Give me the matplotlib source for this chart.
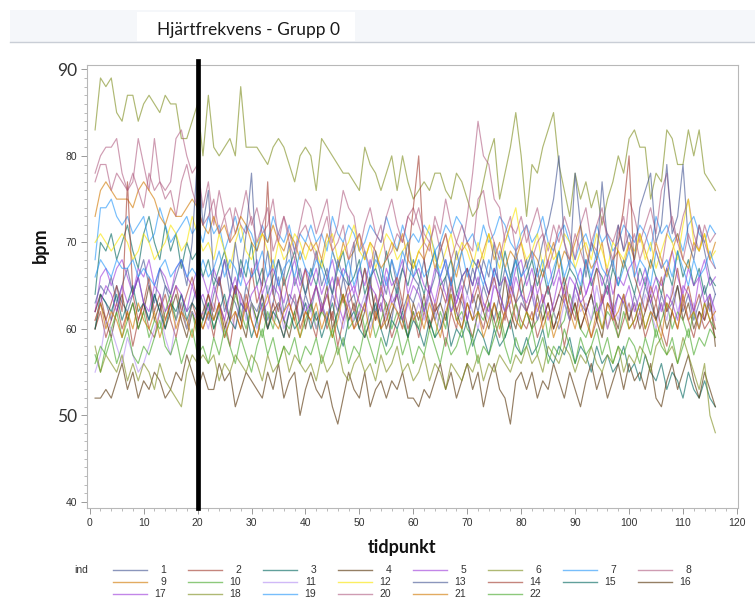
import numpy as np
import matplotlib
matplotlib.use("Agg")
import matplotlib.pyplot as plt
from matplotlib.lines import Line2D
from matplotlib.patches import Rectangle
from matplotlib.ticker import MultipleLocator

# hjärtfrekvens per individ, tidpunkt 1..116
s1 = [62, 64, 63, 61, 65, 63, 62, 64, 66, 63, 61, 64, 62, 65, 63, 61, 64, 62, 63, 65,
      63, 61, 64, 66, 62, 64, 63, 61, 65, 63, 62, 64, 61, 63, 66, 62, 64, 63, 61, 64,
      62, 65, 63, 61, 64, 62, 66, 63, 64, 61, 63, 65, 62, 64, 63, 61, 65, 62, 64, 63,
      65, 62, 64, 61, 63, 66, 62, 64, 63, 61, 64, 62, 65, 63, 61, 64, 62, 66, 63, 64,
      62, 64, 61, 63, 65, 62, 64, 63, 61, 65, 63, 62, 64, 61, 63, 66, 62, 64, 63, 61,
      64, 62, 65, 63, 61, 64, 62, 63, 65, 62, 64, 61, 63, 65, 62, 64]
s2 = [60, 62, 59, 61, 63, 60, 62, 58, 61, 63, 60, 59, 62, 64, 61, 59, 62, 60, 63, 61,
      60, 62, 59, 63, 61, 58, 62, 60, 64, 61, 59, 62, 60, 63, 61, 59, 62, 64, 60, 62,
      61, 59, 63, 60, 62, 58, 61, 63, 60, 62, 59, 61, 64, 60, 62, 59, 61, 63, 60, 62,
      59, 62, 60, 63, 61, 58, 62, 60, 64, 61, 59, 62, 60, 63, 61, 59, 62, 60, 63, 61,
      60, 62, 59, 61, 63, 60, 62, 58, 61, 63, 60, 62, 59, 61, 64, 60, 62, 59, 61, 63,
      60, 62, 59, 61, 63, 60, 58, 62, 60, 63, 61, 59, 62, 60, 61, 59]
s3 = [64, 70, 69, 71, 68, 70, 72, 69, 67, 71, 73, 70, 68, 72, 69, 71, 67, 70, 68, 69,
      66, 68, 65, 67, 69, 66, 64, 68, 66, 70, 65, 67, 64, 66, 68, 65, 67, 69, 66, 64,
      67, 65, 68, 66, 64, 67, 69, 65, 66, 68, 64, 66, 67, 65, 69, 66, 64, 67, 65, 68,
      66, 64, 67, 69, 65, 66, 68, 64, 66, 67, 65, 68, 66, 64, 67, 65, 69, 66, 68, 64,
      66, 68, 65, 67, 64, 66, 69, 65, 67, 66, 64, 68, 65, 67, 66, 64, 67, 65, 68, 66,
      64, 67, 65, 68, 66, 64, 67, 65, 69, 66, 68, 65, 67, 64, 66, 65]
s4 = [60, 63, 61, 59, 62, 64, 61, 63, 60, 62, 65, 61, 63, 60, 62, 64, 61, 59, 62, 60,
      62, 64, 61, 63, 60, 62, 65, 61, 59, 63, 61, 64, 60, 62, 63, 61, 59, 62, 64, 60,
      63, 61, 62, 65, 60, 62, 64, 61, 63, 60, 62, 66, 61, 63, 60, 62, 64, 61, 59, 63,
      61, 64, 60, 62, 63, 61, 65, 62, 60, 63, 61, 64, 62, 60, 63, 61, 66, 62, 60, 63,
      62, 60, 64, 61, 63, 60, 62, 65, 61, 63, 60, 62, 64, 61, 59, 63, 62, 60, 64, 61,
      63, 60, 62, 64, 61, 63, 60, 62, 65, 61, 63, 60, 62, 61, 64, 58]
s5 = [62, 66, 67, 65, 67, 68, 66, 64, 67, 66, 68, 65, 67, 66, 64, 67, 68, 66, 65, 67,
      66, 64, 67, 65, 68, 66, 64, 67, 65, 66, 68, 64, 66, 67, 65, 63, 66, 68, 65, 67,
      65, 67, 64, 66, 68, 65, 67, 66, 64, 67, 65, 68, 66, 64, 67, 65, 66, 68, 64, 66,
      67, 65, 64, 67, 66, 68, 65, 63, 66, 67, 65, 68, 66, 64, 67, 65, 66, 64, 67, 68,
      65, 67, 64, 66, 68, 65, 67, 63, 66, 65, 67, 64, 66, 68, 65, 67, 64, 66, 65, 67,
      68, 65, 67, 64, 66, 65, 67, 69, 66, 64, 67, 65, 66, 68, 65, 66]
s6 = [83, 89, 88, 89, 85, 84, 87, 87, 84, 86, 87, 86, 85, 87, 86, 86, 82, 82, 84, 86,
      80, 87, 81, 80, 81, 82, 80, 88, 81, 81, 81, 80, 79, 81, 82, 81, 79, 77, 80, 81,
      80, 76, 82, 81, 80, 79, 78, 78, 77, 76, 81, 79, 78, 76, 78, 80, 76, 80, 77, 75,
      76, 77, 76, 78, 78, 76, 75, 78, 77, 75, 73, 74, 77, 80, 82, 75, 78, 81, 85, 80,
      73, 79, 78, 81, 83, 85, 79, 76, 73, 78, 75, 77, 74, 76, 72, 75, 77, 80, 78, 82,
      83, 81, 81, 75, 78, 77, 83, 82, 79, 79, 83, 80, 83, 78, 77, 76]
s7 = [68, 74, 74, 75, 73, 72, 73, 71, 72, 73, 70, 71, 74, 72, 70, 71, 72, 73, 71, 72,
      70, 73, 71, 72, 69, 71, 73, 70, 72, 71, 69, 72, 70, 73, 71, 70, 72, 69, 71, 70,
      72, 70, 71, 69, 73, 71, 70, 72, 71, 69, 70, 72, 71, 70, 73, 71, 69, 72, 70, 71,
      70, 72, 71, 69, 70, 72, 71, 73, 72, 70, 71, 69, 72, 70, 71, 73, 72, 70, 69, 71,
      72, 70, 71, 73, 70, 69, 71, 72, 70, 68, 70, 71, 69, 72, 70, 71, 69, 70, 72, 71,
      70, 72, 71, 69, 73, 71, 72, 70, 71, 69, 72, 73, 71, 70, 72, 71]
s8 = [78, 80, 81, 81, 82, 78, 76, 77, 82, 79, 76, 82, 77, 76, 77, 82, 83, 80, 78, 79,
      74, 77, 72, 76, 73, 74, 71, 73, 76, 72, 74, 71, 72, 75, 70, 73, 71, 69, 72, 75,
      74, 71, 73, 75, 70, 72, 76, 74, 73, 69, 72, 74, 71, 70, 73, 75, 72, 70, 73, 74,
      72, 70, 69, 73, 71, 75, 72, 70, 69, 73, 78, 84, 80, 79, 75, 74, 70, 72, 71, 73,
      70, 72, 74, 71, 69, 72, 70, 73, 71, 68, 72, 74, 70, 69, 73, 71, 70, 72, 69, 75,
      73, 70, 72, 74, 71, 76, 78, 72, 70, 73, 75, 71, 69, 72, 70, 71]
s9 = [73, 76, 77, 76, 75, 75, 75, 74, 76, 77, 76, 75, 73, 72, 74, 73, 73, 74, 75, 74,
      72, 71, 73, 71, 72, 70, 71, 73, 72, 70, 69, 71, 70, 72, 70, 69, 71, 70, 68, 70,
      69, 70, 68, 71, 69, 67, 70, 68, 69, 71, 68, 70, 69, 67, 68, 70, 69, 71, 68, 67,
      69, 68, 70, 67, 69, 71, 68, 66, 69, 70, 68, 67, 69, 71, 68, 70, 67, 69, 68, 70,
      67, 69, 68, 66, 68, 70, 67, 69, 68, 70, 72, 69, 67, 68, 70, 66, 68, 69, 67, 70,
      68, 71, 69, 67, 70, 68, 66, 69, 71, 68, 67, 70, 69, 71, 68, 70]
s10 = [57, 55, 58, 60, 62, 59, 61, 63, 60, 62, 59, 61, 60, 62, 64, 61, 63, 60, 62, 59,
       61, 63, 60, 62, 59, 61, 64, 62, 60, 63, 61, 59, 62, 60, 63, 61, 60, 62, 59, 61,
       63, 60, 62, 61, 59, 62, 64, 60, 61, 63, 60, 62, 59, 61, 63, 60, 62, 61, 59, 62,
       60, 63, 61, 59, 62, 60, 64, 61, 62, 60, 59, 62, 61, 63, 60, 62, 59, 61, 63, 60,
       62, 60, 61, 63, 59, 62, 60, 61, 64, 62, 60, 59, 61, 63, 60, 62, 61, 59, 62, 60,
       61, 63, 60, 62, 59, 61, 63, 60, 62, 61, 59, 62, 60, 63, 61, 60]
s11 = [55, 57, 61, 60, 58, 56, 59, 57, 55, 56, 58, 60, 62, 59, 57, 61, 63, 60, 62, 61,
       62, 60, 63, 61, 59, 62, 60, 64, 61, 63, 60, 62, 65, 61, 63, 60, 62, 64, 61, 63,
       62, 60, 63, 61, 64, 62, 60, 63, 61, 62, 64, 60, 62, 63, 61, 64, 62, 60, 63, 61,
       63, 61, 64, 62, 60, 63, 65, 62, 61, 64, 62, 60, 63, 61, 66, 63, 62, 64, 61, 63,
       62, 64, 61, 63, 65, 62, 60, 63, 61, 64, 62, 63, 61, 65, 62, 60, 63, 61, 64, 62,
       63, 61, 64, 62, 60, 63, 61, 65, 62, 64, 61, 63, 60, 62, 64, 61]
s12 = [70, 71, 70, 69, 70, 71, 70, 68, 69, 71, 70, 68, 69, 70, 72, 71, 69, 70, 73, 71,
       69, 70, 68, 71, 69, 67, 70, 72, 69, 68, 70, 71, 69, 67, 70, 68, 69, 71, 70, 68,
       70, 69, 67, 70, 71, 68, 69, 70, 72, 69, 68, 70, 67, 69, 71, 70, 68, 69, 70, 67,
       69, 70, 72, 68, 67, 69, 71, 68, 70, 69, 67, 70, 68, 71, 69, 67, 70, 72, 74, 70,
       68, 69, 71, 67, 70, 68, 69, 71, 70, 67, 69, 70, 68, 71, 69, 67, 70, 69, 68, 70,
       69, 71, 68, 70, 67, 69, 71, 70, 68, 72, 75, 70, 69, 71, 68, 69]
s13 = [63, 65, 64, 66, 63, 65, 67, 64, 66, 68, 65, 63, 67, 65, 64, 66, 68, 65, 70, 80,
       72, 76, 66, 65, 68, 64, 70, 66, 71, 78, 67, 65, 69, 64, 68, 66, 70, 65, 67, 64,
       66, 69, 65, 67, 64, 68, 66, 65, 70, 64, 67, 65, 69, 66, 64, 68, 65, 67, 70, 66,
       65, 68, 64, 66, 70, 67, 65, 69, 66, 64, 67, 65, 68, 66, 70, 64, 67, 65, 69, 66,
       68, 64, 67, 70, 72, 75, 80, 70, 67, 78, 72, 66, 70, 68, 77, 70, 67, 72, 69, 71,
       68, 74, 76, 78, 70, 72, 79, 71, 73, 79, 70, 68, 72, 69, 66, 64]
s14 = [62, 64, 61, 63, 65, 62, 77, 64, 61, 63, 66, 62, 64, 61, 63, 65, 62, 64, 66, 63,
       61, 64, 62, 66, 63, 61, 65, 64, 62, 67, 63, 65, 77, 64, 62, 66, 63, 61, 64, 67,
       63, 65, 62, 64, 61, 66, 63, 65, 62, 64, 67, 63, 61, 65, 62, 64, 66, 63, 68, 74,
       80, 68, 64, 62, 65, 63, 66, 62, 64, 67, 63, 65, 62, 64, 66, 63, 61, 65, 63, 66,
       62, 64, 67, 63, 65, 62, 64, 66, 63, 61, 65, 62, 64, 67, 63, 65, 62, 70, 74, 80,
       66, 64, 62, 65, 63, 66, 62, 64, 67, 63, 65, 62, 64, 61, 63, 60]
s15 = [60, 64, 63, 62, 64, 61, 63, 65, 62, 63, 61, 64, 62, 60, 63, 62, 64, 61, 63, 62,
       61, 63, 60, 62, 64, 61, 60, 63, 62, 59, 61, 63, 60, 62, 61, 59, 62, 60, 61, 63,
       60, 62, 59, 61, 63, 60, 58, 61, 62, 60, 59, 61, 63, 60, 58, 61, 60, 62, 59, 61,
       60, 58, 61, 59, 60, 62, 58, 60, 59, 61, 58, 60, 59, 57, 60, 58, 59, 61, 58, 57,
       59, 57, 58, 60, 57, 56, 58, 57, 59, 56, 58, 57, 55, 58, 56, 57, 55, 56, 58, 55,
       56, 54, 57, 55, 54, 56, 53, 55, 54, 52, 55, 53, 52, 54, 52, 51]
s16 = [52, 52, 53, 52, 54, 56, 53, 55, 52, 54, 53, 55, 54, 52, 53, 55, 54, 57, 55, 53,
       55, 53, 53, 56, 54, 55, 51, 53, 55, 54, 53, 52, 55, 53, 56, 52, 54, 55, 50, 53,
       55, 53, 52, 54, 51, 49, 52, 55, 53, 52, 55, 51, 53, 54, 52, 54, 53, 55, 52, 52,
       51, 53, 52, 54, 56, 53, 55, 52, 54, 56, 53, 55, 51, 54, 56, 53, 52, 49, 54, 55,
       53, 55, 52, 54, 53, 56, 54, 52, 55, 53, 51, 54, 56, 53, 55, 52, 54, 56, 53, 56,
       54, 55, 53, 56, 52, 51, 54, 56, 53, 55, 57, 54, 52, 55, 53, 51]
s17 = [61, 63, 65, 64, 62, 65, 63, 64, 66, 63, 62, 65, 64, 62, 63, 65, 64, 62, 65, 63,
       64, 62, 65, 63, 61, 64, 66, 63, 62, 64, 65, 62, 63, 65, 64, 61, 63, 66, 64, 62,
       63, 65, 62, 64, 66, 63, 61, 64, 65, 63, 62, 65, 64, 62, 66, 63, 64, 61, 63, 65,
       64, 62, 65, 63, 66, 64, 62, 63, 65, 61, 64, 66, 63, 62, 65, 64, 62, 63, 66, 64,
       63, 65, 62, 64, 61, 63, 66, 64, 62, 65, 63, 64, 66, 62, 63, 65, 61, 64, 63, 65,
       62, 64, 66, 63, 65, 62, 64, 63, 61, 65, 64, 62, 66, 63, 64, 62]
s18 = [58, 55, 57, 56, 55, 57, 54, 56, 54, 56, 55, 53, 56, 54, 53, 52, 51, 55, 57, 56,
       57, 56, 57, 54, 56, 55, 57, 56, 55, 57, 56, 54, 57, 55, 56, 58, 55, 57, 56, 55,
       56, 54, 57, 55, 56, 58, 55, 54, 56, 57, 55, 56, 54, 57, 55, 56, 58, 55, 56, 54,
       55, 57, 54, 56, 55, 53, 56, 55, 54, 56, 55, 57, 54, 56, 55, 57, 56, 55, 57, 56,
       58, 56, 57, 55, 58, 57, 56, 58, 57, 55, 57, 56, 58, 56, 55, 57, 56, 58, 55, 57,
       56, 58, 57, 55, 58, 59, 57, 58, 56, 59, 57, 55, 53, 56, 50, 48]
s19 = [66, 68, 67, 66, 68, 67, 67, 68, 66, 67, 66, 65, 67, 68, 66, 67, 68, 66, 67, 66,
       68, 66, 67, 69, 66, 68, 67, 65, 68, 66, 67, 69, 66, 68, 65, 67, 68, 66, 69, 67,
       66, 68, 67, 65, 69, 67, 66, 68, 65, 67, 69, 66, 68, 67, 65, 68, 66, 69, 67, 66,
       68, 66, 67, 69, 66, 68, 65, 67, 69, 66, 68, 67, 65, 68, 66, 69, 67, 65, 68, 66,
       67, 69, 66, 68, 65, 67, 69, 66, 68, 67, 65, 68, 66, 69, 67, 66, 68, 65, 67, 69,
       66, 68, 67, 65, 69, 67, 68, 66, 69, 67, 65, 68, 66, 67, 69, 67]
s20 = [77, 79, 79, 76, 78, 77, 76, 78, 76, 74, 78, 76, 77, 75, 76, 73, 77, 79, 76, 74,
       72, 73, 75, 71, 73, 70, 74, 72, 71, 73, 70, 72, 74, 69, 71, 73, 70, 68, 71, 72,
       70, 68, 71, 73, 69, 70, 72, 68, 70, 71, 69, 67, 70, 72, 68, 69, 71, 70, 73, 72,
       74, 71, 70, 72, 69, 71, 68, 70, 72, 70, 69, 75, 76, 72, 70, 68, 71, 73, 69, 70,
       72, 68, 70, 71, 67, 69, 72, 70, 68, 71, 69, 67, 70, 72, 74, 70, 68, 71, 73, 69,
       71, 68, 70, 72, 69, 67, 71, 73, 70, 68, 71, 69, 72, 70, 68, 67]
s21 = [61, 63, 60, 62, 61, 59, 62, 60, 63, 61, 60, 62, 59, 61, 63, 60, 62, 61, 59, 62,
       60, 62, 61, 63, 59, 61, 62, 60, 63, 61, 59, 62, 64, 61, 60, 62, 63, 61, 59, 62,
       61, 63, 60, 62, 59, 61, 64, 62, 60, 61, 63, 59, 62, 60, 61, 63, 62, 60, 64, 61,
       62, 60, 63, 61, 59, 62, 64, 61, 60, 63, 61, 62, 59, 61, 63, 60, 62, 64, 61, 60,
       62, 61, 63, 60, 62, 59, 61, 64, 62, 60, 63, 61, 59, 62, 60, 63, 61, 62, 64, 60,
       61, 63, 60, 62, 61, 59, 63, 62, 60, 64, 61, 62, 60, 63, 61, 62]
s22 = [56, 58, 57, 59, 56, 58, 60, 57, 56, 58, 57, 59, 61, 58, 57, 59, 56, 58, 60, 57,
       58, 56, 59, 57, 60, 58, 56, 59, 57, 55, 58, 60, 57, 59, 56, 58, 57, 59, 56, 58,
       57, 59, 56, 58, 60, 57, 59, 56, 58, 57, 60, 58, 56, 59, 57, 58, 60, 57, 59, 56,
       58, 57, 60, 58, 56, 59, 57, 58, 60, 57, 59, 56, 58, 57, 59, 61, 58, 56, 59, 57,
       58, 60, 57, 59, 56, 58, 57, 60, 58, 56, 59, 57, 58, 60, 57, 59, 56, 58, 57, 59,
       58, 56, 59, 57, 60, 58, 57, 59, 56, 58, 60, 57, 59, 58, 60, 59]

series = [s1, s2, s3, s4, s5, s6, s7, s8, s9, s10, s11, s12,
          s13, s14, s15, s16, s17, s18, s19, s20, s21, s22]
ind_labels = [str(i) for i in range(1, 23)]

# SAS-like cycle of 12 colours
palette = ["#445694", "#A23A2E", "#01665E", "#543005", "#9D3CDB", "#7F8E1F",
           "#2597FA", "#B26084", "#D17800", "#47A82A", "#B38EF3", "#F9E500"]

W, H = 755, 603
fig = plt.figure(figsize=(W / 100, H / 100), dpi=100)

# header strip with title
fig.patches.append(Rectangle((10 / W, 1 - 42 / H), 1, 32 / H, transform=fig.transFigure,
                             facecolor="#F5F7FA", edgecolor="none", zorder=0))
fig.patches.append(Rectangle((137 / W, 1 - 41 / H), 218 / W, 29 / H, transform=fig.transFigure,
                             facecolor="white", edgecolor="none", zorder=1))
fig.lines.append(Line2D([10 / W, 1], [1 - 42 / H, 1 - 42 / H], transform=fig.transFigure,
                        color="#C9CED6", lw=1))
fig.text(157 / W, 1 - 30 / H, "Hjärtfrekvens - Grupp 0", fontsize=12.5,
         family="Lato", color="#1a1a1a", va="center", ha="left")

ax = fig.add_axes([87 / W, 1 - 508 / H, 651 / W, 443 / H])
for i, s in enumerate(series):
    if len(s) != 116:
        print("length", i + 1, len(s))
    t = np.arange(1, len(s) + 1)
    ax.plot(t, s, color=palette[i % 12], lw=0.85, alpha=0.62)

ax.axvline(20, ymin=0, ymax=1.008, color="black", lw=3.4, clip_on=False, zorder=5)

ax.set_xlim(-0.5, 120.2)
ax.set_ylim(39.3, 90.5)
ax.xaxis.set_major_locator(MultipleLocator(10))
ax.xaxis.set_minor_locator(MultipleLocator(2))
ax.yaxis.set_major_locator(MultipleLocator(10))
ax.yaxis.set_minor_locator(MultipleLocator(1))
for sp in ax.spines.values():
    sp.set_color("#B8B8B8")
    sp.set_linewidth(0.8)
ax.tick_params(which="major", length=4, width=0.7, color="#9A9A9A",
               labelsize=7.5, labelcolor="#333333", pad=3)
ax.tick_params(which="minor", length=2.5, width=0.6, color="#B0B0B0")
for lab in ax.get_xticklabels():
    lab.set_family("Liberation Sans")
for lab in ax.get_yticklabels():
    lab.set_family("Liberation Sans")
    if lab.get_text() in ("90", "50"):
        lab.set_family("Lato")
        lab.set_fontsize(12.5)

fig.text(40 / W, 1 - 245 / H, "bpm", rotation=90, fontsize=13, fontweight="bold",
         family="Lato", ha="center", va="center", color="#111111")
fig.text(402 / W, 1 - 548 / H, "tidpunkt", fontsize=13, fontweight="bold",
         family="Lato", ha="center", va="center", color="#111111")

# legend, row by row
fig.text(74 / W, 1 - 570 / H, "ind", fontsize=7.5, family="Liberation Sans",
         va="center", color="#333333")
for i, lab in enumerate(ind_labels):
    row, col = divmod(i, 8)
    x0 = 113 + col * 75
    y0 = 1 - (570 + row * 12) / H
    fig.lines.append(Line2D([x0 / W, (x0 + 34) / W], [y0, y0], transform=fig.transFigure,
                            color=palette[i % 12], lw=1, alpha=0.62))
    fig.text((x0 + 53) / W, y0, lab, fontsize=7.5, family="Liberation Sans",
             ha="right", va="center", color="#333333")

fig.savefig("out.png", dpi=100)
